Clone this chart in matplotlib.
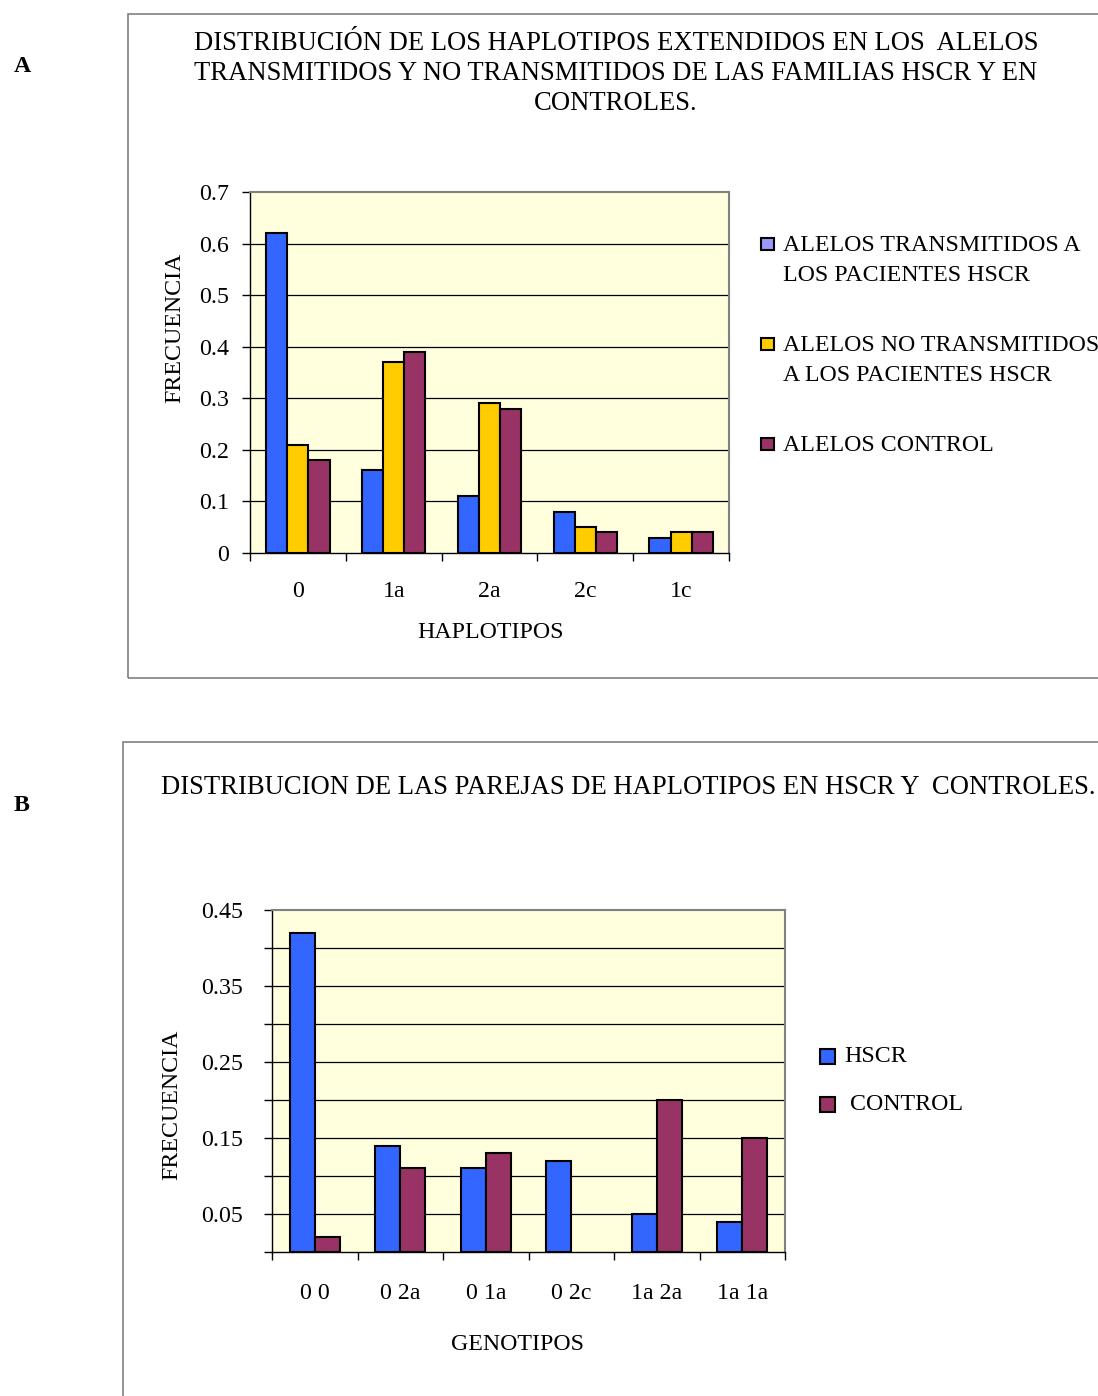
import matplotlib
matplotlib.use("Agg")
import matplotlib.pyplot as plt
from matplotlib.patches import Rectangle
import numpy as np

plt.rcParams['font.family'] = ['Liberation Serif', 'DejaVu Serif']

W, H = 1098, 1396

# ---- Panel A data ----
hap_categories = ["0", "1a", "2a", "2c", "1c"]
transmitidos = [0.62, 0.16, 0.11, 0.08, 0.03]
no_transmitidos = [0.21, 0.37, 0.29, 0.05, 0.04]
control_a = [0.18, 0.39, 0.28, 0.04, 0.04]
legend_a = ["ALELOS TRANSMITIDOS A\nLOS PACIENTES HSCR",
            "ALELOS NO TRANSMITIDOS\nA LOS PACIENTES HSCR",
            "ALELOS CONTROL"]
ytick_labels_a = ["0", "0.1", "0.2", "0.3", "0.4", "0.5", "0.6", "0.7"]

# ---- Panel B data ----
geno_categories = ["0 0", "0 2a", "0 1a", "0 2c", "1a 2a", "1a 1a"]
hscr = [0.42, 0.14, 0.11, 0.12, 0.05, 0.04]
control_b = [0.02, 0.11, 0.13, 0.0, 0.20, 0.15]
legend_b = ["HSCR", " CONTROL"]
ytick_labels_b = ["", "0.05", "", "0.15", "", "0.25", "", "0.35", "", "0.45"]

BLUE = "#3366FF"
YELLOW = "#FFCC00"
MAROON = "#993366"
LEG_BLUE = "#9999FF"
PLOT_BG = "#FFFFDD"
FONT = 17.2
TFONT = 19.2

fig = plt.figure(figsize=(W / 100, H / 100), dpi=100)
fig.patch.set_facecolor("white")


def fx(px):
    return px / W


def fy(py):
    return 1 - py / H


def frame(x0, y0, x1, y1):
    fig.add_artist(Rectangle((fx(x0), fy(y1)), fx(x1) - fx(x0), fy(y0) - fy(y1),
                             transform=fig.transFigure, fill=False,
                             edgecolor="#808080", linewidth=1.2))


def style_axes(ax, ncat, ymax, grid_step, ylabels, xlabels, ypad, xpad):
    ax.set_facecolor(PLOT_BG)
    ax.set_xlim(0, ncat)
    ax.set_ylim(0, ymax)
    for s in ["top", "right"]:
        ax.spines[s].set_color("#808080")
        ax.spines[s].set_linewidth(1.5)
    for s in ["left", "bottom"]:
        ax.spines[s].set_color("black")
        ax.spines[s].set_linewidth(1.0)
    ticks = np.arange(len(ylabels)) * grid_step
    # horizontal grid lines
    for g in ticks[1:]:
        if g < ymax - 1e-9:
            ax.axhline(g, color="black", linewidth=0.9, zorder=1)
    ax.set_yticks(ticks)
    ax.set_yticklabels(ylabels, fontsize=FONT)
    ax.tick_params(axis="y", direction="out", length=6, width=1, pad=ypad)
    # tick marks between categories, labels at centers
    ax.set_xticks(np.arange(0, ncat + 1))
    ax.set_xticklabels([])
    ax.set_xticks(np.arange(ncat) + 0.5, minor=True)
    ax.set_xticklabels(xlabels, minor=True, fontsize=FONT)
    ax.tick_params(axis="x", which="major", direction="out", length=6, width=1)
    ax.tick_params(axis="x", which="minor", length=0, pad=xpad)


# ---------------- Panel A ----------------
frame(128, 14, W + 5, 678)
fig.text(fx(22), fy(66), "A", fontsize=FONT, fontweight="bold", ha="center", va="center")
title_a = ["DISTRIBUCIÓN DE LOS HAPLOTIPOS EXTENDIDOS EN LOS  ALELOS",
           "TRANSMITIDOS Y NO TRANSMITIDOS DE LAS FAMILIAS HSCR Y EN",
           "CONTROLES."]
for i, line in enumerate(title_a):
    fig.text(fx(616), fy(43 + 30 * i), line, fontsize=TFONT, ha="center", va="center")

axA = fig.add_axes([fx(250), fy(553), fx(729) - fx(250), fy(192) - fy(553)])
style_axes(axA, len(hap_categories), 0.7, 0.1, ytick_labels_a, hap_categories, 9, 20)
xa = np.arange(len(hap_categories)) + 0.5
bw_a = 0.22
for k, (vals, col) in enumerate([(transmitidos, BLUE), (no_transmitidos, YELLOW),
                                 (control_a, MAROON)]):
    axA.bar(xa + (k - 1) * bw_a, vals, width=bw_a, color=col,
            edgecolor="black", linewidth=1.5, zorder=3)
fig.text(fx(490), fy(633), "HAPLOTIPOS", fontsize=FONT, ha="center", va="center")
fig.text(fx(175), fy(328), "FRECUENCIA", fontsize=FONT, ha="center", va="center",
         rotation=90)

leg_a_rows = [244, 344, 444]
for lab, row, col in zip(legend_a, leg_a_rows, [LEG_BLUE, YELLOW, MAROON]):
    fig.add_artist(Rectangle((fx(761), fy(row + 6)), fx(12.5), 12.5 / H,
                             transform=fig.transFigure, facecolor=col,
                             edgecolor="black", linewidth=1.5))
    fig.text(fx(783), fy(row - 9), lab, fontsize=FONT, ha="left", va="top",
             linespacing=1.58)

# ---------------- Panel B ----------------
frame(123, 742, W + 5, H + 5)
fig.text(fx(22), fy(806), "B", fontsize=FONT, fontweight="bold", ha="center", va="center")
fig.text(fx(628), fy(787), "DISTRIBUCION DE LAS PAREJAS DE HAPLOTIPOS EN HSCR Y  CONTROLES.",
         fontsize=TFONT, ha="center", va="center")

axB = fig.add_axes([fx(272), fy(1252), fx(785) - fx(272), fy(910) - fy(1252)])
style_axes(axB, len(geno_categories), 0.45, 0.05, ytick_labels_b, geno_categories, 15, 22)
xb = np.arange(len(geno_categories)) + 0.5
bw_b = 0.29
for k, (vals, col) in enumerate([(hscr, BLUE), (control_b, MAROON)]):
    v = np.array(vals)
    pos = xb + (k - 0.5) * bw_b
    m = v > 0
    axB.bar(pos[m], v[m], width=bw_b, color=col, edgecolor="black",
            linewidth=1.5, zorder=3)
fig.text(fx(518), fy(1345), "GENOTIPOS", fontsize=FONT, ha="center", va="center")
fig.text(fx(172), fy(1105), "FRECUENCIA", fontsize=FONT, ha="center", va="center",
         rotation=90)

for lab, row, col in zip(legend_b, [1056, 1104], [BLUE, MAROON]):
    fig.add_artist(Rectangle((fx(820), fy(row + 7.5)), fx(15), 15 / H,
                             transform=fig.transFigure, facecolor=col,
                             edgecolor="black", linewidth=1.5))
    fig.text(fx(844), fy(row), lab, fontsize=FONT, ha="left", va="center")

fig.savefig("out.png", dpi=100, facecolor="white")
